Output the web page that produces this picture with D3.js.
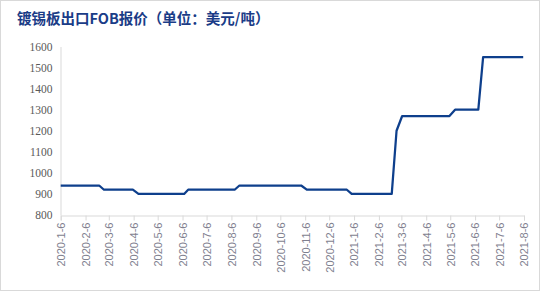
<!DOCTYPE html>
<html>
<head>
<meta charset="utf-8">
<script src="https://cdn.jsdelivr.net/npm/d3@7"></script>
<style>
  body { margin: 0; background: #fff; }
  svg { display: block; }
</style>
</head>
<body>
<div id="chart"></div>
<script>
// turning points of the weekly FOB price line
const dates = ["2020-1-6", "2020-2-23", "2020-2-29", "2020-4-5", "2020-4-12", "2020-6-8", "2020-6-13",
    "2020-8-10", "2020-8-16", "2020-11-1", "2020-11-8", "2020-12-28", "2021-1-3", "2021-2-22",
    "2021-2-28", "2021-3-7", "2021-5-5", "2021-5-12", "2021-6-10", "2021-6-16", "2021-8-5"];
const prices = [940, 940, 920, 920, 900, 900, 920, 920, 940, 940, 920, 920, 900, 900,
    1200, 1270, 1270, 1300, 1300, 1550, 1550];
const xTickLabels = ["2020-1-6", "2020-2-6", "2020-3-6", "2020-4-6", "2020-5-6", "2020-6-6", "2020-7-6",
    "2020-8-6", "2020-9-6", "2020-10-6", "2020-11-6", "2020-12-6", "2021-1-6", "2021-2-6", "2021-3-6",
    "2021-4-6", "2021-5-6", "2021-6-6", "2021-7-6", "2021-8-6"];
const yTicks = [800, 900, 1000, 1100, 1200, 1300, 1400, 1500, 1600];
const title = "镀锡板出口FOB报价（单位：美元/吨）";

const width = 542;
const height = 293;
const parse = d3.timeParse("%Y-%m-%d");

const data = dates.map((d, i) => ({ date: parse(d), value: prices[i] }));
const tickDates = xTickLabels.map(parse);

const svg = d3.select("#chart")
    .append("svg")
    .attr("width", width)
    .attr("height", height);

// outer frame
svg.append("rect")
    .attr("x", 0.5)
    .attr("y", 0.5)
    .attr("width", 539)
    .attr("height", 290)
    .attr("fill", "none")
    .attr("stroke", "#d9d9d9");

svg.append("text")
    .attr("x", 17)
    .attr("y", 24)
    .style("font-family", "'Noto Sans CJK SC', sans-serif")
    .style("font-size", "14.5px")
    .style("font-weight", "bold")
    .style("fill", "#1a3c87")
    .text(title);

const x = d3.scaleTime()
    .domain([tickDates[0], tickDates[tickDates.length - 1]])
    .range([60.7, 524]);

const y = d3.scaleLinear()
    .domain([800, 1600])
    .range([215, 46.5]);

// y axis
const yAxis = svg.append("g")
    .attr("transform", "translate(60.5,0)")
    .call(d3.axisLeft(y).tickValues(yTicks).tickSize(0).tickPadding(8).tickFormat(d3.format("d")));
yAxis.select(".domain").attr("stroke", "#d9d9d9");
yAxis.selectAll(".tick text")
    .style("font-family", "'Liberation Serif', 'Times New Roman', serif")
    .style("font-size", "11.5px")
    .style("fill", "#595959");

// x axis
const xAxis = svg.append("g")
    .attr("transform", "translate(0,215.5)")
    .call(d3.axisBottom(x).tickValues(tickDates).tickSizeOuter(0).tickSize(5)
        .tickFormat((d, i) => xTickLabels[i]));
xAxis.select(".domain").attr("stroke", "#d9d9d9");
xAxis.selectAll(".tick line").attr("stroke", "#d9d9d9");
xAxis.selectAll(".tick text")
    .attr("transform", "rotate(-90)")
    .attr("x", -7)
    .attr("y", 0)
    .attr("dy", "0.35em")
    .style("text-anchor", "end")
    .style("font-family", "'Liberation Sans', Arial, sans-serif")
    .style("font-size", "11px")
    .style("fill", "#7f7f8f");

const line = d3.line()
    .x(d => x(d.date))
    .y(d => y(d.value));

svg.append("path")
    .datum(data)
    .attr("fill", "none")
    .attr("stroke", "#0e3f8c")
    .attr("stroke-width", 2.25)
    .attr("stroke-linejoin", "round")
    .attr("d", line);
</script>
</body>
</html>
